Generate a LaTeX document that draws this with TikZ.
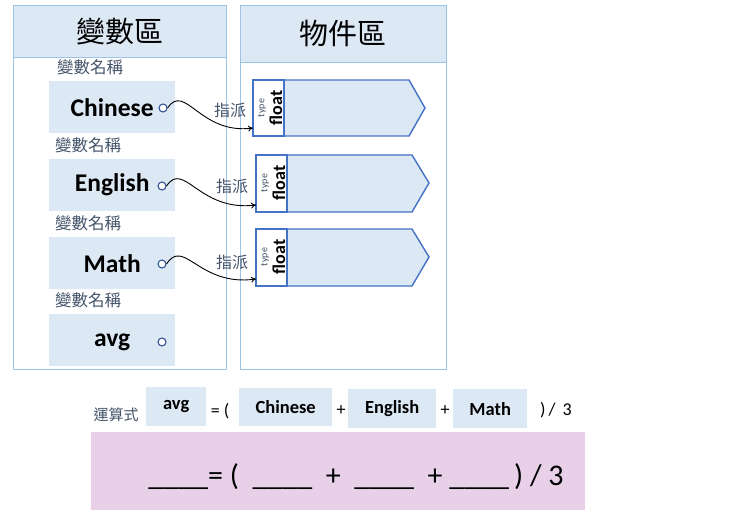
\documentclass[tikz,border=0pt]{standalone}
\usepackage{fontspec}
\setmainfont{Carlito}
\newfontfamily\cjk{Noto Sans CJK TC}
\usetikzlibrary{arrows.meta}
\definecolor{lb}{HTML}{DDE8F5}
\definecolor{panelline}{HTML}{9DC3E6}
\definecolor{objline}{HTML}{4472C4}
\definecolor{circline}{HTML}{2F5597}
\definecolor{graytxt}{HTML}{44546A}
\definecolor{pinkfill}{HTML}{E8D1E8}
\tikzset{
  panel/.style={draw=panelline, line width=0.8pt, anchor=north west, inner sep=0pt},
  header/.style={panel, fill=lb, font=\cjk\fontsize{29}{31}\selectfont},
  varbox/.style={fill=lb, anchor=north west, inner sep=0pt, minimum width=126pt, minimum height=52pt, font=\bfseries\fontsize{25.5}{27}\selectfont},
  varlabel/.style={anchor=west, text=graytxt, font=\cjk\fontsize{16.5}{17}\selectfont, inner sep=0pt},
  port/.style={circle, draw=circline, fill=white, line width=1.1pt, minimum size=8pt, inner sep=0pt},
  objshape/.style={draw=objline, line width=1.4pt, fill=lb},
  typecell/.style={draw=objline, line width=1.4pt, fill=white},
  assign/.style={-{To[length=5pt,width=6pt]}, line width=0.9pt, black},
  asglabel/.style={text=graytxt, font=\cjk\fontsize{16}{17}\selectfont, inner sep=0pt},
  eqbox/.style={fill=lb, anchor=north west, inner sep=0pt, font=\bfseries\fontsize{18.5}{20}\selectfont},
  eqtxt/.style={inner sep=0pt, font=\fontsize{18}{20}\selectfont},
}
\begin{document}
\begin{tikzpicture}[x=1pt,y=-1pt]
\useasboundingbox (0,0) rectangle (741,522);
\fill[white] (0,0) rectangle (741,522);
% panels
\node[panel, minimum width=213pt, minimum height=364pt] (lpanel) at (13,5) {};
\node[panel, minimum width=206pt, minimum height=364pt] (rpanel) at (240,5) {};
\node[header, minimum width=213pt, minimum height=52pt] (lhead) at (13,5) {變數區};
\node[header, minimum width=206pt, minimum height=57pt] (rhead) at (240,5) {物件區};
% variable labels
\node[varlabel] (l1) at (57,67) {變數名稱};
\node[varlabel] (l2) at (55,145) {變數名稱};
\node[varlabel] (l3) at (55,223) {變數名稱};
\node[varlabel] (l4) at (55,300) {變數名稱};
% variable boxes
\node[varbox] (v1) at (49,81) {Chinese};
\node[varbox] (v2) at (49,159) {English};
\node[varbox] (v3) at (49,237) {Math};
\node[varbox, text height=16pt] (v4) at (49,314) {avg};
\node[port] (c1) at (163,108) {};
\node[port] (c2) at (162,186) {};
\node[port] (c3) at (162,264) {};
\node[port] (c4) at (162,342) {};
% objects
\path[objshape] (253,80) -- (409,80) -- (425,108) -- (409,136) -- (253,136) -- cycle;
\path[typecell] (253,80) rectangle (284,136);
\node[rotate=90, text=graytxt, font=\fontsize{10}{10}\selectfont, inner sep=0pt] (t1) at (262,108) {type};
\node[rotate=90, font=\bfseries\fontsize{18}{18}\selectfont, inner sep=0pt] (f1) at (276,108) {float};
\path[objshape] (256,155) -- (412,155) -- (429,183) -- (412,212) -- (256,212) -- cycle;
\path[typecell] (256,155) rectangle (287,212);
\node[rotate=90, text=graytxt, font=\fontsize{10}{10}\selectfont, inner sep=0pt] (t2) at (265,183) {type};
\node[rotate=90, font=\bfseries\fontsize{18}{18}\selectfont, inner sep=0pt] (f2) at (279,183) {float};
\path[objshape] (256,229) -- (412,229) -- (429,257) -- (412,286) -- (256,286) -- cycle;
\path[typecell] (256,229) rectangle (287,286);
\node[rotate=90, text=graytxt, font=\fontsize{10}{10}\selectfont, inner sep=0pt] (t3) at (265,257) {type};
\node[rotate=90, font=\bfseries\fontsize{18}{18}\selectfont, inner sep=0pt] (f3) at (279,257) {float};
\coordinate (o1) at (253,128);
\coordinate (o2) at (256,205);
\coordinate (o3) at (256,279);
% assignments
\draw[assign] (c1.east) .. controls (185,82) and (200,135) .. (o1);
\draw[assign] (c2.east) .. controls (184,160) and (199,212) .. (o2);
\draw[assign] (c3.east) .. controls (184,237) and (199,287) .. (o3);
\node[asglabel] (a1) at (230,110) {指派};
\node[asglabel] (a2) at (232,186) {指派};
\node[asglabel] (a3) at (232,262) {指派};
% expression row
\node[text=graytxt, font=\cjk\fontsize{15}{16}\selectfont, inner sep=0pt] (yss) at (116,415) {運算式};
\node[eqbox, minimum width=60pt, minimum height=39pt] (e1) at (146,387) {avg};
\node[eqtxt] (eq) at (220,411) {= (};
\node[eqbox, minimum width=93pt, minimum height=38pt] (e2) at (239,388) {Chinese};
\node[eqtxt] (p1) at (341,411) {+};
\node[eqbox, minimum width=88pt, minimum height=39pt] (e3) at (348,389) {English};
\node[eqtxt] (p2) at (445,411) {+};
\node[eqbox, minimum width=74pt, minimum height=39pt] (e4) at (453,389) {Math};
\node[eqtxt] (dv) at (556,410) {)\,/\, 3};
% pink answer box
\node[fill=pinkfill, anchor=north west, minimum width=494pt, minimum height=78pt, inner sep=0pt] (ans) at (91,432) {};
\node[inner sep=0pt, font=\fontsize{30}{32}\selectfont] (anstxt) at (356,477) {\_\_\_\_= (\ \ \_\_\_\_\ \ +\ \ \_\_\_\_\ \ +\ \_\_\_\_\,) / 3};
\end{tikzpicture}
\end{document}
